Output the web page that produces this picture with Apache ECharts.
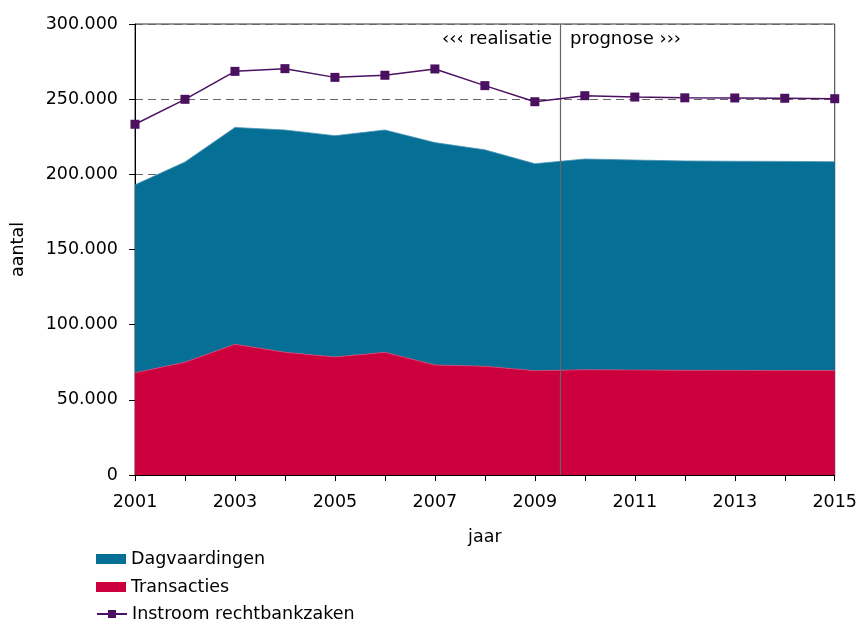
<!DOCTYPE html>
<html>
<head>
<meta charset="utf-8">
<script src="https://cdn.jsdelivr.net/npm/echarts@6/dist/echarts.min.js"></script>
<style>
html, body { margin: 0; padding: 0; background: #fff; }
#chart { width: 860px; height: 625px; }
</style>
</head>
<body>
<div id="chart"></div>
<script>
var years = [2001, 2002, 2003, 2004, 2005, 2006, 2007, 2008, 2009, 2010, 2011, 2012, 2013, 2014, 2015];
var transacties = [68000, 75000, 87000, 81600, 78500, 81600, 73200, 72300, 69400, 70000, 69800, 69700, 69600, 69500, 69500];
var dagvaardingen = [125000, 133200, 144200, 147900, 147200, 147900, 147900, 144000, 137700, 140200, 139700, 139200, 139100, 139100, 138900];
var instroom = [233300, 249900, 268500, 270300, 264500, 265900, 270100, 259000, 248300, 252300, 251400, 250900, 250800, 250600, 250300];
var splitYear = 2009.5;

function pairs(arr) {
	var out = [];
	for (var i = 0; i < years.length; i++) {
		out.push([years[i], arr[i]]);
	}
	return out;
}

function dutchNumber(v) {
	return String(v).replace(/\B(?=(\d{3})+(?!\d))/g, '.');
}

var font = 'DejaVu Sans';
var fs = 17.5;
var myChart = echarts.init(document.getElementById('chart'));

// one legend per row so the three items always stack vertically
function legendRow(item, top) {
	return {
		orient: 'vertical',
		left: 96,
		top: top,
		padding: 0,
		itemWidth: 30,
		itemHeight: 10,
		textStyle: { fontFamily: font, fontSize: fs, color: '#000' },
		data: [item]
	};
}

var option = {
	animation: false,
	textStyle: { fontFamily: font },
	grid: {
		left: 135,
		right: 24,
		top: 24,
		bottom: 150,
		show: true,
		borderColor: '#333',
		borderWidth: 1
	},
	legend: [
		legendRow({ name: 'Dagvaardingen', icon: 'rect' }, 550),
		legendRow({ name: 'Transacties', icon: 'rect' }, 578),
		legendRow({ name: 'Instroom rechtbankzaken' }, 605)
	],
	xAxis: [
		{
			type: 'category',
			data: years,
			boundaryGap: false,
			name: 'jaar',
			nameLocation: 'middle',
			nameGap: 53,
			nameTextStyle: { fontFamily: font, fontSize: fs, color: '#000' },
			axisLine: { lineStyle: { color: '#000', width: 1 } },
			axisTick: { show: true, length: 6, interval: 0, lineStyle: { color: '#000' } },
			axisLabel: {
				fontFamily: font,
				fontSize: fs,
				color: '#000',
				margin: 18,
				interval: 1
			},
			splitLine: { show: false }
		},
		{
			type: 'value',
			min: 2001,
			max: 2015,
			show: false
		}
	],
	yAxis: {
		type: 'value',
		min: 0,
		max: 300000,
		interval: 50000,
		name: 'aantal',
		nameLocation: 'middle',
		nameGap: 108,
		nameTextStyle: { fontFamily: font, fontSize: fs, color: '#000' },
		axisLine: { show: true, lineStyle: { color: '#000', width: 1 } },
		axisTick: { show: true, length: 6, lineStyle: { color: '#000' } },
		axisLabel: {
			fontFamily: font,
			fontSize: fs,
			color: '#000',
			margin: 17,
			formatter: dutchNumber
		},
		splitLine: { show: true, lineStyle: { color: '#666', type: [8, 5], width: 1.2 } }
	},
	graphic: [
		{
			type: 'text',
			right: 860 - 552,
			top: 30,
			style: { text: '‹‹‹ realisatie', font: '18px "DejaVu Sans"', fill: '#000' }
		},
		{
			type: 'text',
			left: 570,
			top: 30,
			style: { text: 'prognose ›››', font: '18px "DejaVu Sans"', fill: '#000' }
		}
	],
	series: [
		{
			name: 'Transacties',
			type: 'line',
			stack: 'total',
			data: transacties,
			symbol: 'none',
			lineStyle: { width: 0.8, color: '#d94070' },
			itemStyle: { color: '#cc003d' },
			areaStyle: { color: '#cc003d', opacity: 1 },
			z: 2
		},
		{
			name: 'Dagvaardingen',
			type: 'line',
			stack: 'total',
			data: dagvaardingen,
			symbol: 'none',
			lineStyle: { width: 0.8, color: '#4a93b3' },
			itemStyle: { color: '#066f96' },
			areaStyle: { color: '#066f96', opacity: 1 },
			z: 2
		},
		{
			name: 'Instroom rechtbankzaken',
			type: 'line',
			xAxisIndex: 1,
			data: pairs(instroom),
			symbol: 'rect',
			symbolSize: 9,
			lineStyle: { width: 1.5, color: '#4b1060' },
			itemStyle: { color: '#4b1060' },
			z: 5,
			markLine: {
				silent: true,
				symbol: 'none',
				label: { show: false },
				lineStyle: { color: '#666', type: 'solid', width: 1.2 },
				data: [{ xAxis: splitYear }]
			}
		}
	]
};

myChart.setOption(option);
</script>
</body>
</html>
